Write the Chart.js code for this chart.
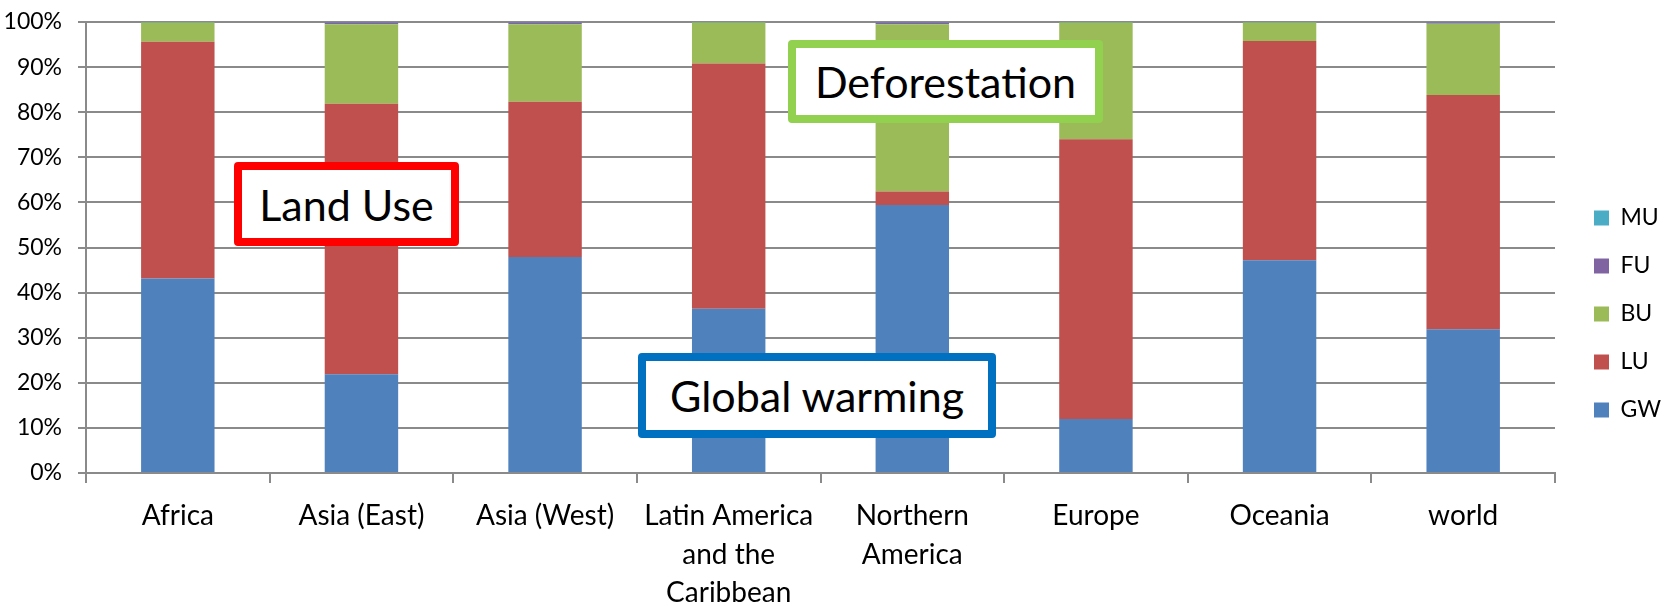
<!DOCTYPE html>
<html>
<head>
<meta charset="utf-8">
<script src="https://cdn.jsdelivr.net/npm/chart.js@4.4.1/dist/chart.umd.min.js"></script>
<style>
  html, body { margin: 0; padding: 0; background: #ffffff; }
  #wrap { position: relative; width: 1671px; height: 606px; overflow: hidden; }
  #chart { position: absolute; left: 0; top: 0; }
  .note {
    position: absolute; box-sizing: border-box; background: #ffffff;
    border: 8px solid; border-radius: 4px;
    display: flex; align-items: center; justify-content: center;
    font-family: Lato, "Open Sans", sans-serif; font-size: 43px; color: #000000;
    white-space: nowrap;
  }
</style>
</head>
<body>
<div id="wrap">
  <canvas id="chart" width="1671" height="606"></canvas>
  <div class="note" style="left:234px; top:162px; width:225px; height:84px; border-color:#ff0000;">Land Use</div>
  <div class="note" style="left:788px; top:40px; width:315px; height:83px; border-color:#92d050;">Deforestation</div>
  <div class="note" style="left:638px; top:353px; width:358px; height:85px; border-color:#0070c0;">Global warming</div>
</div>
<script>
// Regions on the category axis (multi-line names are arrays of lines)
const regions = [
  'Africa',
  'Asia (East)',
  'Asia (West)',
  ['Latin America', 'and the', 'Caribbean'],
  ['Northern', 'America'],
  'Europe',
  'Oceania',
  'world'
];

// Share of each driver per region, in percent
const GW = [43.1, 21.9, 47.9, 36.4, 59.4, 12.0, 47.2, 31.9];
const LU = [52.5, 60.0, 34.4, 54.4,  3.0, 62.0, 48.6, 51.9];
const BU = [ 4.3, 17.6, 17.2,  9.1, 37.1, 25.9,  4.1, 15.8];
const FU = [ 0.0,  0.4,  0.4,  0.0,  0.4,  0.0,  0.0,  0.3];
const MU = [ 0.1,  0.1,  0.1,  0.1,  0.1,  0.1,  0.1,  0.1];

// Value axis ticks
const yTickValues = [0, 10, 20, 30, 40, 50, 60, 70, 80, 90, 100];

const FONT = 'Lato, "Open Sans", sans-serif';
const GRID = '#8a8a8a';

// Plot frame in canvas pixels
const PLOT_LEFT = 86;
const PLOT_RIGHT = 1555;
const PLOT_BOTTOM = 473;
const CANVAS_W = 1671;
const CANVAS_H = 606;

const series = [
  { label: 'GW', data: GW, backgroundColor: '#4f81bd' },
  { label: 'LU', data: LU, backgroundColor: '#c0504d' },
  { label: 'BU', data: BU, backgroundColor: '#9bbb59' },
  { label: 'FU', data: FU, backgroundColor: '#8064a2' },
  { label: 'MU', data: MU, backgroundColor: '#4bacc6' }
];

new Chart(document.getElementById('chart'), {
  type: 'bar',
  data: {
    labels: regions,
    datasets: series.map(s => ({
      label: s.label,
      data: s.data,
      backgroundColor: s.backgroundColor,
      borderWidth: 0,
      barPercentage: 0.4,
      categoryPercentage: 1.0
    }))
  },
  options: {
    responsive: false,
    animation: false,
    devicePixelRatio: 1,
    layout: { padding: { top: 22, right: 0, bottom: 0, left: 0 } },
    plugins: {
      tooltip: { enabled: false },
      legend: {
        position: 'right',
        reverse: true,
        labels: {
          font: { family: FONT, size: 23 },
          color: '#000000',
          boxWidth: 15,
          boxHeight: 15,
          padding: 25
        }
      }
    },
    scales: {
      x: {
        stacked: true,
        offset: true,
        grid: {
          display: true,
          drawOnChartArea: false,
          drawTicks: true,
          tickLength: 10,
          color: GRID,
          lineWidth: 2,
          offset: true
        },
        border: { display: true, color: GRID, width: 2 },
        ticks: {
          autoSkip: false,
          maxRotation: 0,
          minRotation: 0,
          padding: 14,
          color: '#000000',
          font: { family: FONT, size: 28, lineHeight: 1.37 }
        },
        afterFit(scale) { scale.height = CANVAS_H - PLOT_BOTTOM; }
      },
      y: {
        stacked: true,
        min: 0,
        max: 100,
        afterBuildTicks(scale) { scale.ticks = yTickValues.map(v => ({ value: v })); },
        grid: {
          color: GRID,
          lineWidth: 2,
          drawTicks: true,
          tickLength: 8
        },
        border: { display: true, color: GRID, width: 2 },
        ticks: {
          padding: 16,
          color: '#000000',
          font: { family: FONT, size: 23 },
          callback: v => v + '%'
        },
        afterFit(scale) {
          scale.width = PLOT_LEFT;
          scale.paddingTop = 0;
          scale.paddingBottom = 0;
        }
      },
      // empty spacer between the plot and the legend
      gap: {
        type: 'linear',
        position: 'right',
        display: true,
        grid: { display: false },
        border: { display: false },
        ticks: { display: false },
        afterFit(scale) {
          const lg = scale.chart.legend;
          scale.width = Math.max(0, CANVAS_W - PLOT_RIGHT - (lg ? lg.width : 0));
        }
      }
    }
  }
});
</script>
</body>
</html>
